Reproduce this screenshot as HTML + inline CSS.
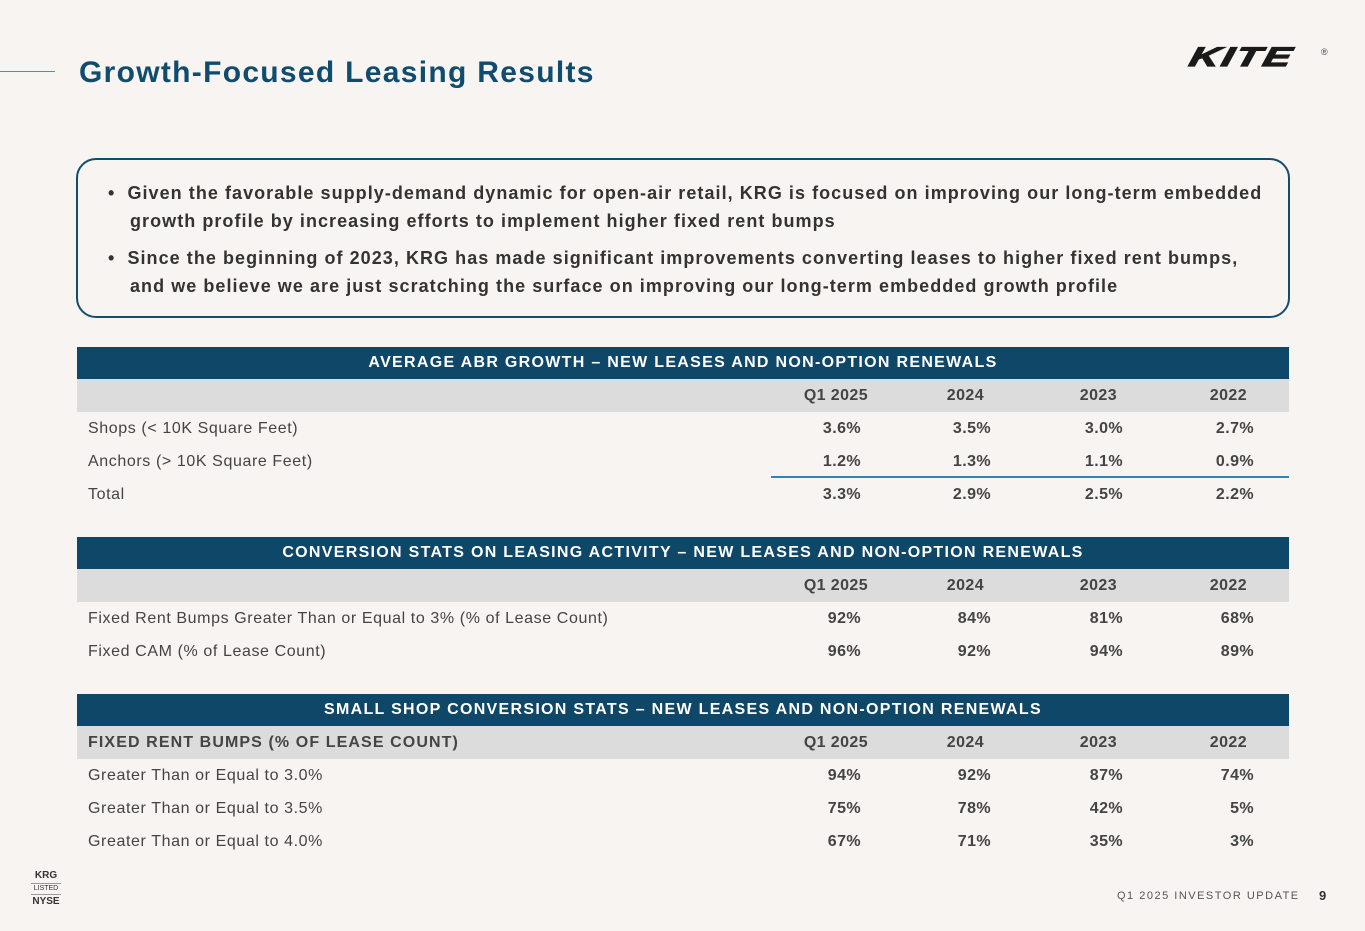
<!DOCTYPE html>
<html><head><meta charset="utf-8"><style>
*{margin:0;padding:0;box-sizing:border-box}
body{width:1365px;height:931px;background:#f7f4f1;font-family:"Liberation Sans",sans-serif;position:relative;overflow:hidden;color:#333}
.a{position:absolute;white-space:nowrap}
.band{position:absolute;left:77px;width:1212px;height:32px;background:#0e4768;color:#fff;font-weight:bold;font-size:16px;text-align:center;line-height:32px;letter-spacing:1.3px}
.gh{position:absolute;left:77px;width:1212px;height:33px;background:#dcdcdc}
.row{position:absolute;left:77px;width:1212px;height:33px;font-size:16px;line-height:33px}
.row .l{position:absolute;left:11px;color:#444;letter-spacing:0.6px}
.c{position:absolute;text-align:right;width:100px;font-weight:bold;color:#444;letter-spacing:0.4px}
.c1{left:691px}.c2{left:807px}.c3{left:940px}.c4{left:1070px}
.v1{left:684px}.v2{left:814px}.v3{left:946px}.v4{left:1077px}
.bl{position:absolute;left:108px;font-size:18px;font-weight:bold;color:#333;line-height:28px;letter-spacing:1.05px;white-space:nowrap}
</style></head><body>
<div class="a" style="left:0;top:71px;width:55px;height:1px;background:#2d9bd0"></div>
<div class="a" style="left:79px;top:56px;font-size:30px;font-weight:bold;color:#0f4c6e;letter-spacing:1.3px">Growth-Focused Leasing Results</div>
<div class="a" style="left:1190px;top:36px;font-size:36px;font-weight:900;font-style:italic;color:#1a1a1a;letter-spacing:2px;transform:skewX(-14deg) scale(1.15,0.75);transform-origin:left center;-webkit-text-stroke:1.5px #1a1a1a">KITE</div>
<div class="a" style="left:1321px;top:47px;font-size:9px;color:#444">®</div>

<div class="a" style="left:76px;top:158px;width:1214px;height:160px;border:2px solid #134d6e;border-radius:20px"></div>
<div class="bl" style="top:179px">•&nbsp;&nbsp;Given the favorable supply-demand dynamic for open-air retail, KRG is focused on improving our long-term embedded<br><span style="padding-left:22px">growth profile by increasing efforts to implement higher fixed rent bumps</span></div>
<div class="bl" style="top:244px">•&nbsp;&nbsp;Since the beginning of 2023, KRG has made significant improvements converting leases to higher fixed rent bumps,<br><span style="padding-left:22px">and we believe we are just scratching the surface on improving our long-term embedded growth profile</span></div>

<div class="band" style="top:347px">AVERAGE ABR GROWTH – NEW LEASES AND NON-OPTION RENEWALS</div>
<div class="gh" style="top:379px"></div>
<div class="row" style="top:379px"><span class="c c1">Q1 2025</span><span class="c c2">2024</span><span class="c c3">2023</span><span class="c c4">2022</span></div>
<div class="row" style="top:412px"><span class="l">Shops (&lt; 10K Square Feet)</span><span class="c v1">3.6%</span><span class="c v2">3.5%</span><span class="c v3">3.0%</span><span class="c v4">2.7%</span></div>
<div class="row" style="top:445px"><span class="l">Anchors (&gt; 10K Square Feet)</span><span class="c v1">1.2%</span><span class="c v2">1.3%</span><span class="c v3">1.1%</span><span class="c v4">0.9%</span></div>
<div class="a" style="left:771px;top:476px;width:518px;height:2px;background:#2e86b8"></div>
<div class="row" style="top:478px"><span class="l">Total</span><span class="c v1">3.3%</span><span class="c v2">2.9%</span><span class="c v3">2.5%</span><span class="c v4">2.2%</span></div>

<div class="band" style="top:537px">CONVERSION STATS ON LEASING ACTIVITY – NEW LEASES AND NON-OPTION RENEWALS</div>
<div class="gh" style="top:569px"></div>
<div class="row" style="top:569px"><span class="c c1">Q1 2025</span><span class="c c2">2024</span><span class="c c3">2023</span><span class="c c4">2022</span></div>
<div class="row" style="top:602px"><span class="l">Fixed Rent Bumps Greater Than or Equal to 3% (% of Lease Count)</span><span class="c v1">92%</span><span class="c v2">84%</span><span class="c v3">81%</span><span class="c v4">68%</span></div>
<div class="row" style="top:635px"><span class="l">Fixed CAM (% of Lease Count)</span><span class="c v1">96%</span><span class="c v2">92%</span><span class="c v3">94%</span><span class="c v4">89%</span></div>

<div class="band" style="top:694px">SMALL SHOP CONVERSION STATS – NEW LEASES AND NON-OPTION RENEWALS</div>
<div class="gh" style="top:726px"></div>
<div class="row" style="top:726px"><span class="l" style="font-weight:bold;letter-spacing:1.1px">FIXED RENT BUMPS (% OF LEASE COUNT)</span><span class="c c1">Q1 2025</span><span class="c c2">2024</span><span class="c c3">2023</span><span class="c c4">2022</span></div>
<div class="row" style="top:759px"><span class="l">Greater Than or Equal to 3.0%</span><span class="c v1">94%</span><span class="c v2">92%</span><span class="c v3">87%</span><span class="c v4">74%</span></div>
<div class="row" style="top:792px"><span class="l">Greater Than or Equal to 3.5%</span><span class="c v1">75%</span><span class="c v2">78%</span><span class="c v3">42%</span><span class="c v4">5%</span></div>
<div class="row" style="top:825px"><span class="l">Greater Than or Equal to 4.0%</span><span class="c v1">67%</span><span class="c v2">71%</span><span class="c v3">35%</span><span class="c v4">3%</span></div>

<div class="a" style="left:31px;top:870px;width:30px;text-align:center;color:#333;font-weight:bold">
<div style="font-size:10px;line-height:12px">KRG</div>
<div style="border-top:1px solid #999;border-bottom:1px solid #999;font-size:7px;font-weight:normal;line-height:10px;margin:1px 0">LISTED</div>
<div style="font-size:10px;line-height:12px">NYSE</div></div>
<div class="a" style="left:1117px;top:890px;font-size:11px;letter-spacing:1.5px;color:#555">Q1 2025 INVESTOR UPDATE</div>
<div class="a" style="left:1319px;top:888px;font-size:13px;font-weight:bold;color:#333">9</div>
</body></html>
